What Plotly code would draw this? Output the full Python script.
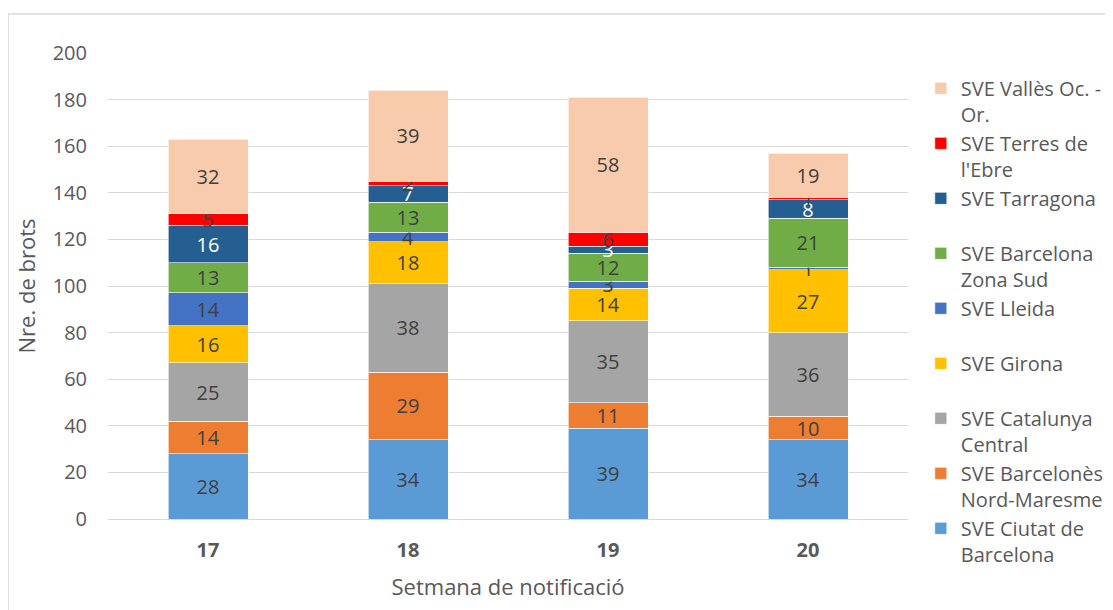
import plotly.graph_objects as go

# ---- data ----
weeks = ["17", "18", "19", "20"]

ciutat_barcelona = [28, 34, 39, 34]
barcelones_nord_maresme = [14, 29, 11, 10]
catalunya_central = [25, 38, 35, 36]
girona = [16, 18, 14, 27]
lleida = [14, 4, 3, 1]
barcelona_zona_sud = [13, 13, 12, 21]
tarragona = [16, 7, 3, 8]
terres_ebre = [5, 2, 6, 1]
valles_oc_or = [32, 39, 58, 19]

series_names = [
    "SVE Ciutat de<br>Barcelona",
    "SVE Barcelonès<br>Nord-Maresme",
    "SVE Catalunya<br>Central",
    "SVE Girona<br> ",
    "SVE Lleida<br> ",
    "SVE Barcelona<br>Zona Sud",
    "SVE Tarragona<br> ",
    "SVE Terres de<br>l'Ebre",
    "SVE Vallès Oc. -<br>Or.",
]
series_values = [
    ciutat_barcelona, barcelones_nord_maresme, catalunya_central, girona,
    lleida, barcelona_zona_sud, tarragona, terres_ebre, valles_oc_or,
]
colors = ["#5B9BD5", "#ED7D31", "#A5A5A5", "#FFC000", "#4472C4",
          "#70AD47", "#255E91", "#FF0000", "#F8CBAD"]
label_colors = ["#404040", "#404040", "#404040", "#404040", "#404040",
                "#404040", "#FFFFFF", "#404040", "#404040"]

FONT = "Open Sans"
GREY_TXT = "#595959"
GRID = "#D9D9D9"

fig = go.Figure()
for name, vals, col, lc in zip(series_names, series_values, colors, label_colors):
    fig.add_trace(go.Bar(
        x=weeks, y=vals, name=name,
        marker=dict(color=col, line=dict(color="white", width=0.6)),
        text=[str(v) for v in vals],
        textposition="inside", insidetextanchor="middle", textangle=0,
        textfont=dict(family=FONT, size=20, color=lc),
        hoverinfo="skip",
    ))

# page body has an 8px margin: figure is 1105x602 drawn from (8, 8)
fig.update_layout(
    width=1105, height=602,
    barmode="stack", bargap=0.6,
    paper_bgcolor="white", plot_bgcolor="white",
    margin=dict(l=100, r=205, t=45, b=91, autoexpand=False),
    font=dict(family=FONT, color=GREY_TXT),
    uniformtext=dict(minsize=20, mode="show"),
    showlegend=True,
    legend=dict(
        traceorder="reversed", x=1.016, xanchor="left", y=0.966, yanchor="top",
        font=dict(family=FONT, size=20, color=GREY_TXT),
        valign="top", bgcolor="rgba(0,0,0,0)", itemclick=False,
        maxheight=580,
    ),
    xaxis=dict(
        type="category", range=[-0.5, 3.5], showgrid=False,
        showline=True, linecolor=GRID, linewidth=1.3, ticks="",
        tickfont=dict(family=FONT, size=20, color=GREY_TXT, weight="bold"),
        ticklabelstandoff=13,
        title=dict(text="Setmana de notificació", standoff=17,
                   font=dict(family=FONT, size=22, color=GREY_TXT)),
    ),
    yaxis=dict(
        range=[0, 200], dtick=20, tick0=0, showgrid=True, gridcolor=GRID,
        gridwidth=1.3, zeroline=False, ticks="",
        tickfont=dict(family=FONT, size=20, color=GREY_TXT),
        ticklabelstandoff=20,
        title=dict(text="Nre. de brots", standoff=10,
                   font=dict(family=FONT, size=22, color=GREY_TXT)),
    ),
    shapes=[dict(type="rect", xref="paper", yref="paper",
                 x0=-0.125, x1=1.4, y0=-0.4, y1=1.0837,
                 line=dict(color=GRID, width=1.5), fillcolor="rgba(0,0,0,0)",
                 layer="below")],
)

fig.write_html("out.html")
